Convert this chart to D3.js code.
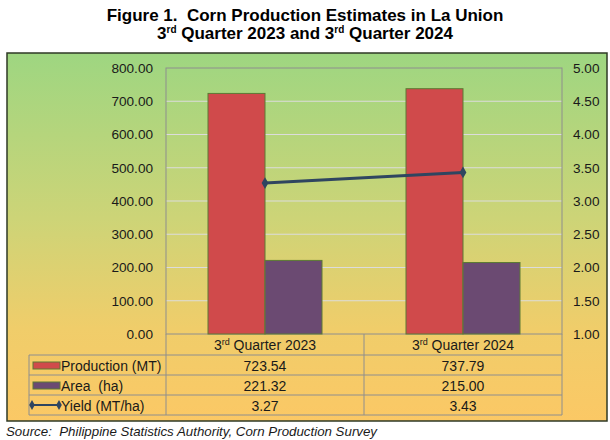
<!DOCTYPE html>
<html><head><meta charset="utf-8">
<script src="https://cdn.jsdelivr.net/npm/d3@7"></script>
<style>body{margin:0;background:#fff;} svg{display:block;font-family:"Liberation Sans",Arial,sans-serif;}</style>
</head><body><svg id="c" width="610" height="440"></svg>
<script>
const categories = ["2023", "2024"];
const production = [723.54, 737.79];
const area = [221.32, 215.00];
const yieldVals = [3.27, 3.43];
const leftTicks = [0,100,200,300,400,500,600,700,800];
const rightTicks = [1,1.5,2,2.5,3,3.5,4,4.5,5];
const seriesNames = ["Production (MT)", "Area\u00a0 (ha)", "Yield (MT/ha)"];

const svg = d3.select("#c");
const defs = svg.append("defs");
const g = defs.append("linearGradient").attr("id","bg").attr("x1",0).attr("y1",0).attr("x2",0).attr("y2",1);
[[0,"#9ED681"],[0.45,"#CDD477"],[0.75,"#F0CD6A"],[1,"#FBC865"]].forEach(s=>g.append("stop").attr("offset",s[0]).attr("stop-color",s[1]));

// title
const t = svg.append("g").attr("font-weight","bold").attr("font-size",17).attr("text-anchor","middle").attr("fill","#000");
t.append("text").attr("x",305).attr("y",21).text("Figure 1.\u00a0 Corn Production Estimates in La Union");
const t2 = t.append("text").attr("x",305).attr("y",39);
t2.append("tspan").text("3");
t2.append("tspan").attr("font-size",10).attr("dy",-6).text("rd");
t2.append("tspan").attr("dy",6).text(" Quarter 2023 and 3");
t2.append("tspan").attr("font-size",10).attr("dy",-6).text("rd");
t2.append("tspan").attr("dy",6).text(" Quarter 2024");

// background box
svg.append("rect").attr("x",7).attr("y",53).attr("width",600).attr("height",368)
  .attr("fill","url(#bg)").attr("stroke","#2f3a26").attr("stroke-width",1.5);

const L=166, R=562, T=68, B=334;
const x = d3.scaleBand().domain(categories).range([L,R]);
const xs = d3.scaleBand().domain(["p","a"]).range([42,156]);
const yL = d3.scaleLinear().domain([0,800]).range([B,T]);
const yR = d3.scaleLinear().domain([1,5]).range([B,T]);

// gridlines
svg.append("g").selectAll("line").data(leftTicks.filter(v=>v>0&&v<800)).join("line")
  .attr("x1",L).attr("x2",R).attr("y1",d=>yL(d)).attr("y2",d=>yL(d))
  .attr("stroke","#DCDCDC").attr("stroke-width",1);

// plot border
svg.append("rect").attr("x",L).attr("y",T).attr("width",R-L).attr("height",B-T)
  .attr("fill","none").attr("stroke","#8E8E8E").attr("stroke-width",1);

// axes
const ax = svg.append("g").attr("transform",`translate(${L},0)`)
  .call(d3.axisLeft(yL).tickValues(leftTicks).tickFormat(d3.format(".2f")).tickSize(0).tickPadding(13));
const ax2 = svg.append("g").attr("transform",`translate(${R},0)`)
  .call(d3.axisRight(yR).tickValues(rightTicks).tickFormat(d3.format(".2f")).tickSize(0).tickPadding(11));
[ax,ax2].forEach(a=>{a.select(".domain").remove(); a.selectAll("text").attr("font-size",13.6).attr("fill","#1a1a1a").attr("font-family","Liberation Sans, Arial, sans-serif");});

const red="#D04A4B", purple="#6B4A72", barStroke="#5C7A34", lineC="#2F4560";

// bars
const bars = svg.append("g");
bars.selectAll(".p").data(categories).join("rect")
  .attr("x",d=>x(d)+xs("p")).attr("width",xs.bandwidth())
  .attr("y",(d,i)=>yL(production[i])).attr("height",(d,i)=>B-yL(production[i]))
  .attr("fill",red).attr("stroke",barStroke).attr("stroke-width",1);
bars.selectAll(".a").data(categories).join("rect")
  .attr("x",d=>x(d)+xs("a")).attr("width",xs.bandwidth())
  .attr("y",(d,i)=>yL(area[i])).attr("height",(d,i)=>B-yL(area[i]))
  .attr("fill",purple).attr("stroke",barStroke).attr("stroke-width",1);

// line
const cx = d=>x(d)+x.bandwidth()/2;
svg.append("path").datum(categories)
  .attr("d",d3.line().x(d=>cx(d)).y((d,i)=>yR(yieldVals[i])))
  .attr("fill","none").attr("stroke",lineC).attr("stroke-width",3);
const diamond = d3.symbol().type(d3.symbolDiamond).size(40);
svg.append("g").selectAll("path").data(categories).join("path")
  .attr("d",diamond).attr("transform",(d,i)=>`translate(${cx(d)},${yR(yieldVals[i])})`)
  .attr("fill",lineC);

// data table
const TL=29, rows=[355,375,395,415];
const tb = svg.append("g").attr("stroke","#8E8E8E").attr("stroke-width",1);
tb.append("line").attr("x1",L).attr("x2",L).attr("y1",B).attr("y2",415);
tb.append("line").attr("x1",R).attr("x2",R).attr("y1",B).attr("y2",415);
tb.append("line").attr("x1",x(categories[1])).attr("x2",x(categories[1])).attr("y1",B).attr("y2",415);
tb.append("line").attr("x1",TL).attr("x2",TL).attr("y1",355).attr("y2",415);
tb.selectAll(".h").data(rows).join("line").attr("x1",TL).attr("x2",R).attr("y1",d=>d).attr("y2",d=>d);

// category labels
const cl = svg.append("g").attr("font-size",14).attr("text-anchor","middle").attr("fill","#1a1a1a");
categories.forEach(c=>{
  const tx = cl.append("text").attr("x",cx(c)).attr("y",350);
  tx.append("tspan").text("3");
  tx.append("tspan").attr("font-size",9).attr("dy",-5).text("rd");
  tx.append("tspan").attr("dy",5).text(" Quarter " + c);
});

// values
const fmt = d3.format(".2f");
const tv = svg.append("g").attr("font-size",14).attr("text-anchor","middle").attr("fill","#1a1a1a");
[production, area, yieldVals].forEach((arr,r)=>{
  categories.forEach((c,i)=>{
    tv.append("text").attr("x",cx(c)).attr("y",rows[r]+15.5).text(fmt(arr[i]));
  });
});

// legend labels
const lg = svg.append("g").attr("font-size",14).attr("fill","#1a1a1a");
seriesNames.forEach((s,r)=>lg.append("text").attr("x",61).attr("y",rows[r]+15.5).text(s));
lg.append("rect").attr("x",33).attr("y",362).attr("width",27).attr("height",7).attr("fill",red).attr("stroke",barStroke).attr("stroke-width",1);
lg.append("rect").attr("x",33).attr("y",382).attr("width",27).attr("height",7).attr("fill",purple).attr("stroke",barStroke).attr("stroke-width",1);
lg.append("line").attr("x1",32).attr("x2",59).attr("y1",405).attr("y2",405).attr("stroke",lineC).attr("stroke-width",2);
[32,59].forEach(px=>lg.append("path").attr("d",d3.symbol().type(d3.symbolDiamond).size(28)()).attr("transform",`translate(${px},405)`).attr("fill",lineC));

// source
svg.append("text").attr("x",6).attr("y",436).attr("font-size",13.3).attr("font-style","italic").attr("fill","#1a1a1a")
  .text("Source:\u00a0 Philippine Statistics Authority, Corn Production Survey");
</script></body></html>
